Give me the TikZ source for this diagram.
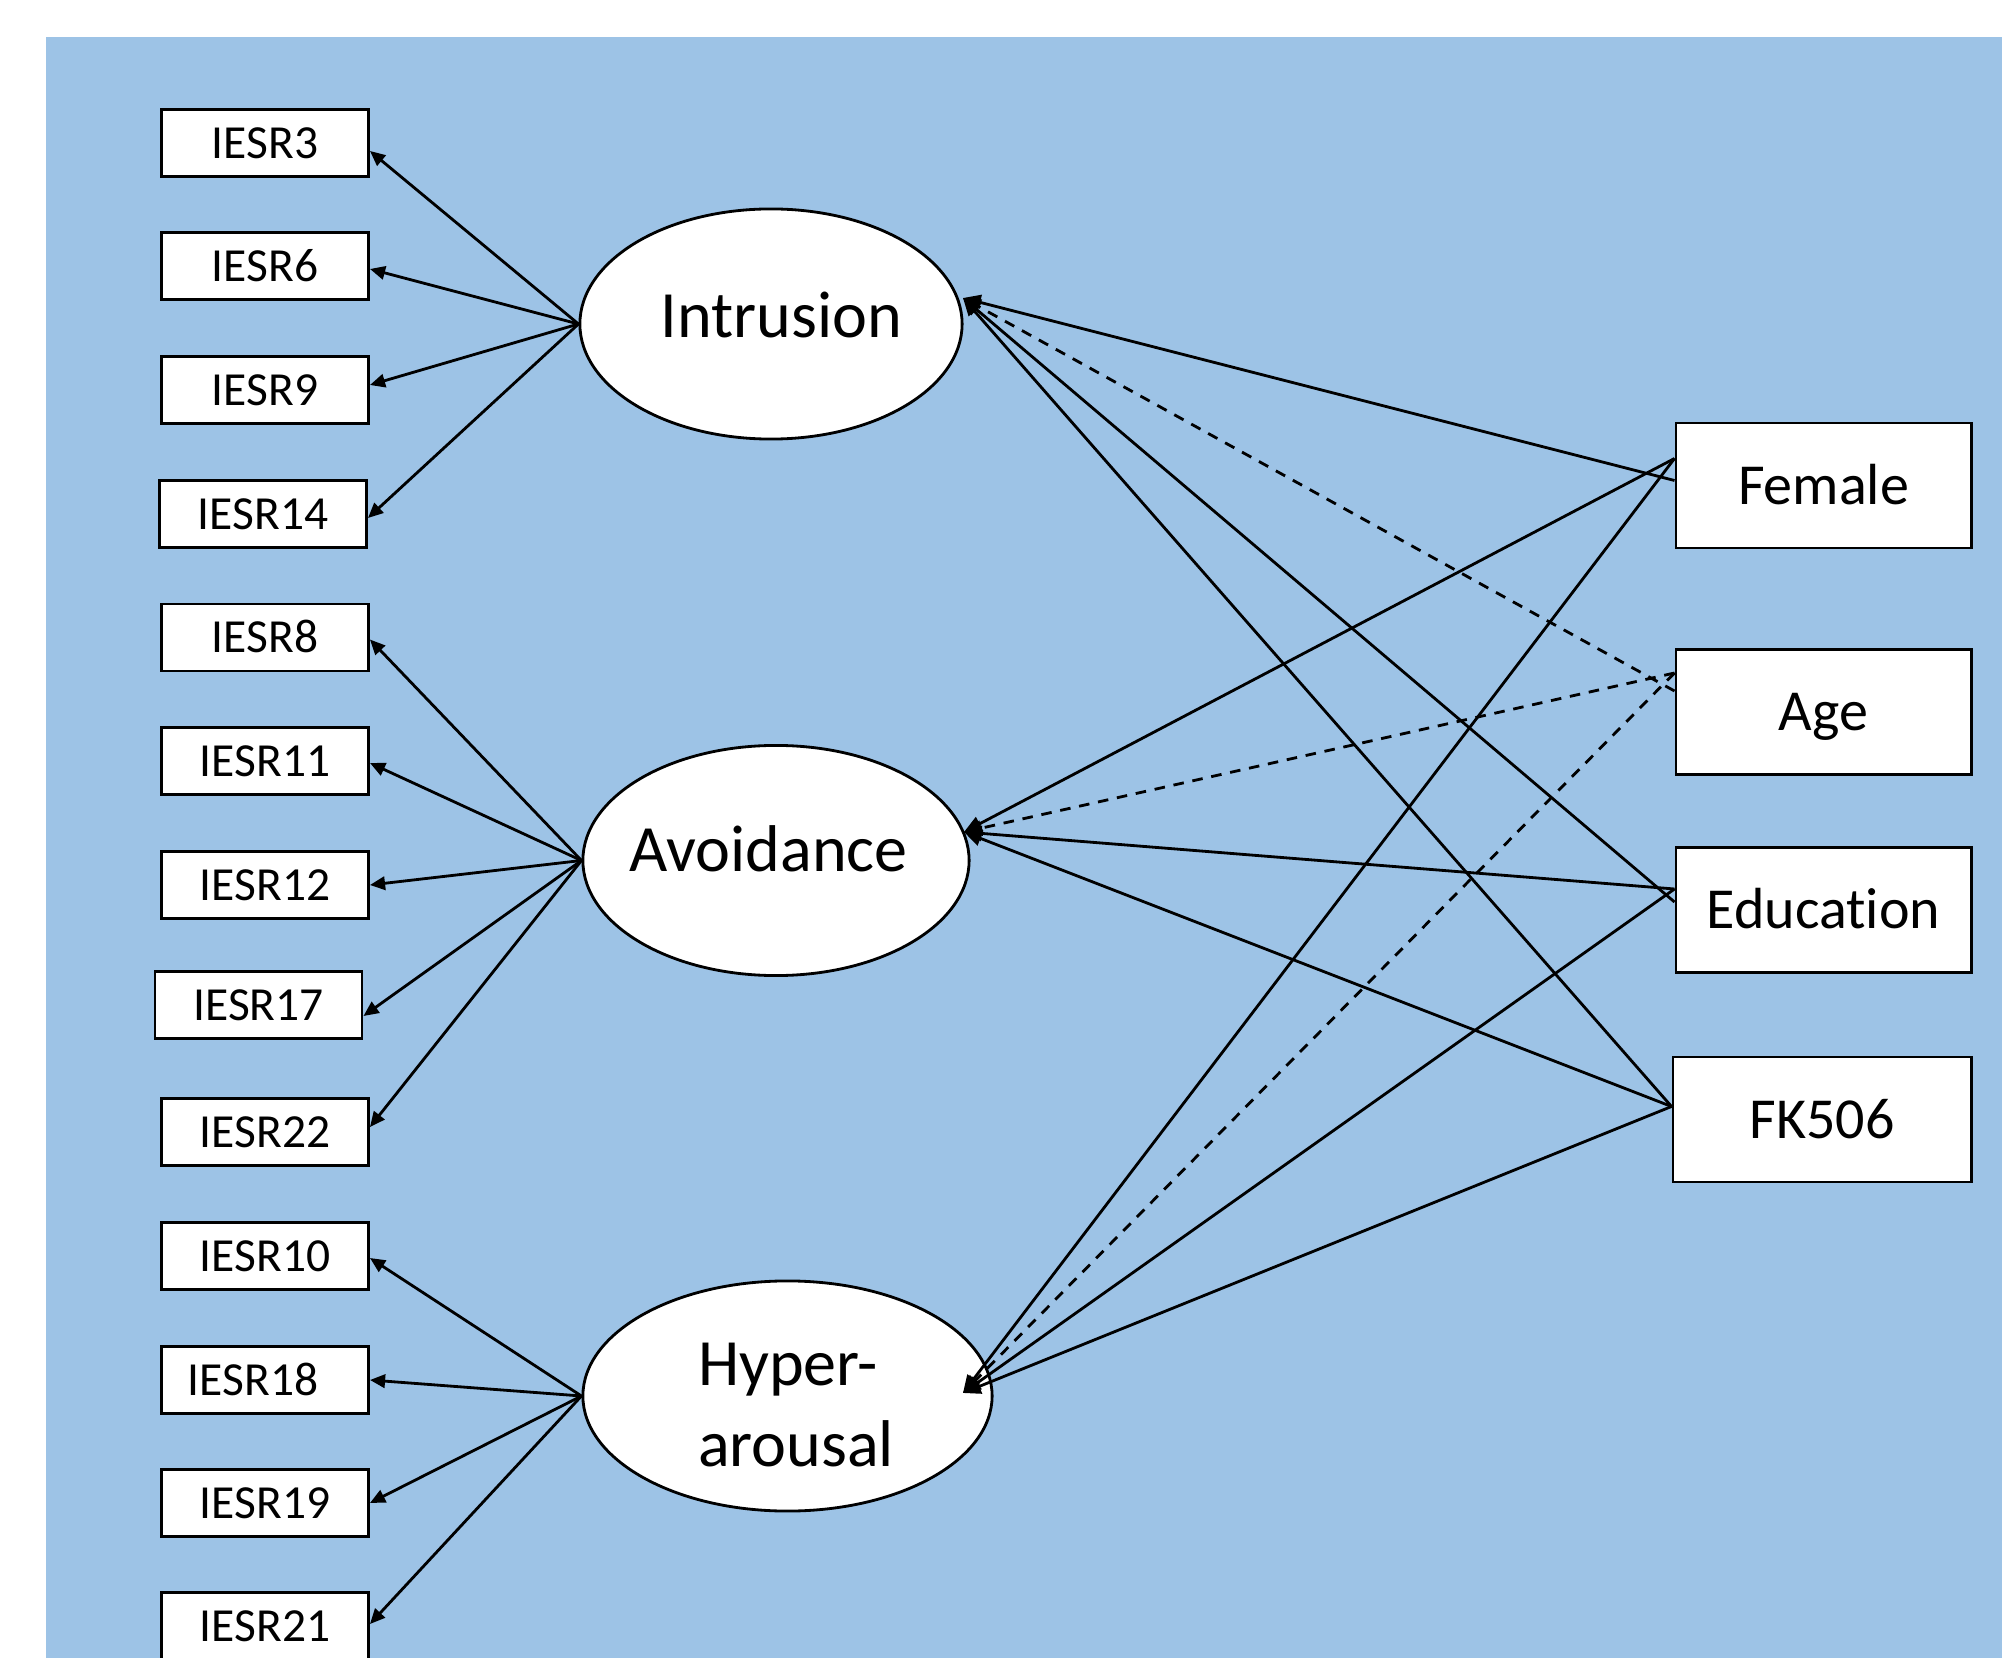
\documentclass[tikz,border=0pt]{standalone}
\usepackage{fontspec}
\setmainfont{Carlito}[Ligatures=NoCommon]
\usetikzlibrary{shapes.geometric,arrows.meta,calc}
\definecolor{bgblue}{RGB}{157,195,230}
\tikzset{
 obs/.style={draw, fill=white, line width=0.8pt, minimum width=2.07cm, minimum height=0.67cm, inner sep=0pt, text height=8.7pt, text depth=0pt, font=\fontsize{13.5}{16}\selectfont},
 cov/.style={draw, fill=white, line width=0.8pt, minimum width=2.95cm, minimum height=1.25cm, inner sep=0pt, text height=10.6pt, text depth=0pt, font=\fontsize{16.5}{20}\selectfont},
 lat/.style={ellipse, draw, fill=white, line width=0.8pt, inner sep=0pt, minimum height=2.3cm},
 ltxt/.style={font=\fontsize{18.8}{23}\selectfont, inner sep=0pt},
 load/.style={line width=0.8pt, -{Triangle[length=4.3pt,width=3.8pt]}},
 reg/.style={line width=0.8pt, -{Triangle[length=5pt,width=4.3pt]}},
 dreg/.style={reg, dash pattern=on 3pt off 2.5pt},
}
\begin{document}
\begin{tikzpicture}[x=0.01cm,y=-0.01cm]
\useasboundingbox (0,0) rectangle (2002,1658);
\fill[bgblue] (46,37) rectangle (2002,1658);

% observed indicators
\node[obs] (i3)  at (265,143)  {IESR3};
\node[obs] (i6)  at (265,266)  {IESR6};
\node[obs] (i9)  at (265,390)  {IESR9};
\node[obs] (i14) at (263,514)  {IESR14};
\node[obs] (i8)  at (265,637.5) {IESR8};
\node[obs] (i11) at (265,761)  {IESR11};
\node[obs] (i12) at (265,885)  {IESR12};
\node[obs] (i17) at (258.5,1005) {IESR17};
\node[obs] (i22) at (265,1132) {IESR22};
\node[obs] (i10) at (265,1256) {IESR10};
\node[obs] (i18) at (265,1380) {IESR18\kern0.24cm};
\node[obs] (i19) at (265,1503) {IESR19};
\node[obs] (i21) at (265,1626) {IESR21};

% latent factors
\node[lat, minimum width=3.82cm,
  label={[ltxt, xshift=0.105cm, yshift=0.085cm]center:Intrusion}] (int) at (771,324) {};
\node[lat, minimum width=3.86cm,
  label={[ltxt, xshift=-0.075cm, yshift=0.115cm]center:Avoidance}] (avo) at (776,860.5) {};
\node[lat, minimum width=4.09cm,
  label={[ltxt, align=left, xshift=0.085cm, yshift=-0.09cm]center:{Hyper-\\arousal}}] (hyp) at (787.5,1396) {};

% covariates
\node[cov] (fem) at (1823.5,485.5) {Female};
\node[cov] (age) at (1823.5,712) {Age};
\node[cov] (edu) at (1823.5,910) {Education};
\node[cov, minimum width=2.98cm] (fk) at (1822,1119.5) {FK506};

% arrow targets on latent factors
\coordinate (intR) at ($(int.center)+(192,-26)$);
\coordinate (avoR) at ($(avo.center)+(188,-28.5)$);
\coordinate (hypR) at ($(hyp.center)+(175.5,-3)$);

% start points on covariates
\coordinate (femI) at ($(fem.west)+(0,-5)$);
\coordinate (femO) at ($(fem.west)+(0,-27)$);
\coordinate (ageI) at ($(age.west)+(0,-21)$);
\coordinate (ageO) at ($(age.west)+(0,-39)$);
\coordinate (eduI) at ($(edu.west)+(0,-8)$);
\coordinate (eduO) at ($(edu.west)+(0,-21)$);
\coordinate (fkO)  at ($(fk.west)+(0,-13)$);

% loadings
\draw[load] (int.west) -- ($(i3.east)+(0,8)$);
\draw[load] (int.west) -- ($(i6.east)+(0,3)$);
\draw[load] (int.west) -- ($(i9.east)+(0,-5)$);
\draw[load] (int.west) -- ($(i14.east)+(0,4)$);
\draw[load] (avo.west) -- ($(i8.east)+(0,2)$);
\draw[load] (avo.west) -- ($(i11.east)+(0,2)$);
\draw[load] (avo.west) -- (i12.east);
\draw[load] (avo.west) -- ($(i17.east)+(0,11)$);
\draw[load] (avo.west) -- ($(i22.east)+(0,-5)$);
\draw[load] (hyp.west) -- ($(i10.east)+(0,2)$);
\draw[load] (hyp.west) -- (i18.east);
\draw[load] (hyp.west) -- (i19.east);
\draw[load] (hyp.west) -- ($(i21.east)+(0,-2)$);

% regressions
\draw[reg]  (femI) -- (intR);
\draw[reg]  (femO) -- (avoR);
\draw[reg]  (femO) -- (hypR);
\draw[dreg] (ageI) -- (intR);
\draw[dreg] (ageO) -- (avoR);
\draw[dreg] (ageO) -- (hypR);
\draw[reg]  (eduI) -- (intR);
\draw[reg]  (eduO) -- (avoR);
\draw[reg]  (eduO) -- (hypR);
\draw[reg]  (fkO) -- (intR);
\draw[reg]  (fkO) -- (avoR);
\draw[reg]  (fkO) -- (hypR);
\end{tikzpicture}
\end{document}
